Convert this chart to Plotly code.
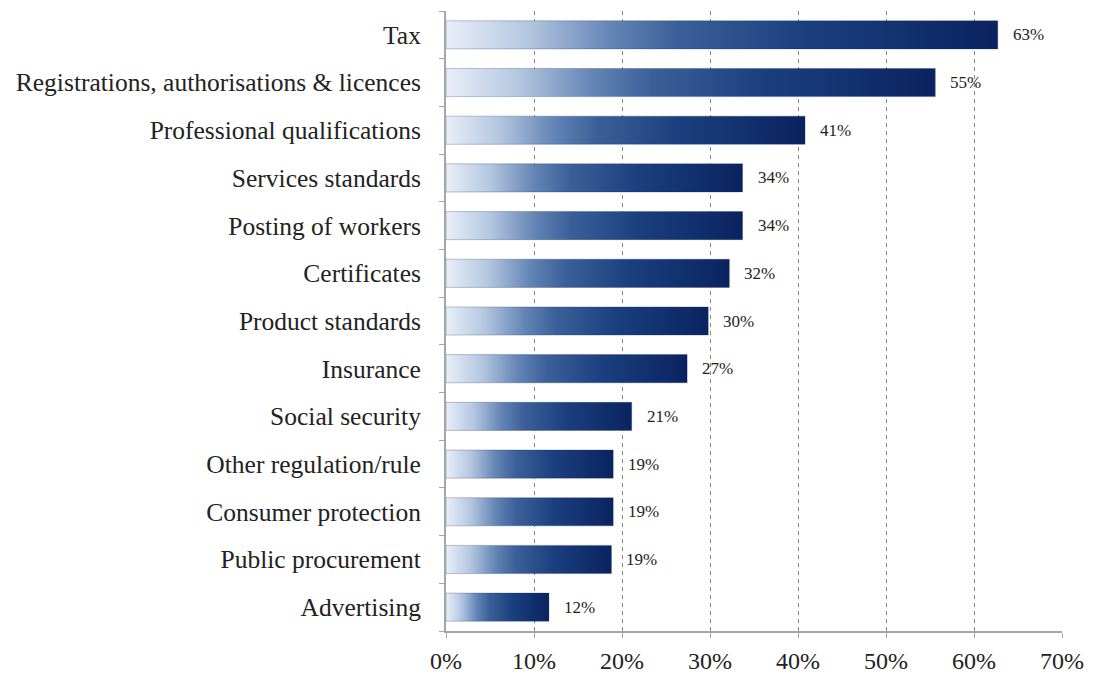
import plotly.graph_objects as go

# Share of respondents citing each area as an obstacle
categories = [
    "Tax",
    "Registrations, authorisations & licences",
    "Professional qualifications",
    "Services standards",
    "Posting of workers",
    "Certificates",
    "Product standards",
    "Insurance",
    "Social security",
    "Other regulation/rule",
    "Consumer protection",
    "Public procurement",
    "Advertising",
]
values = [0.627, 0.556, 0.408, 0.337, 0.337, 0.322, 0.298, 0.274, 0.211, 0.190, 0.190, 0.188, 0.117]
value_labels = ["63%", "55%", "41%", "34%", "34%", "32%", "30%", "27%", "21%", "19%", "19%", "19%", "12%"]
x_ticks = [0, 0.1, 0.2, 0.3, 0.4, 0.5, 0.6, 0.7]
x_tick_labels = ["0%", "10%", "20%", "30%", "40%", "50%", "60%", "70%"]

FONT = "Liberation Serif, Times New Roman, serif"
HALF = 0.295  # half bar thickness in category units

gradient = [
    [0.0, "#e9eff8"],
    [0.15, "#b3c6e0"],
    [0.3, "#6384b5"],
    [0.42, "#3b6099"],
    [0.65, "#1b3f7e"],
    [1.0, "#0a2360"],
]

fig = go.Figure()
for i, v in enumerate(values):
    fig.add_trace(go.Scatter(
        x=[0, v, v, 0, 0],
        y=[i - HALF, i - HALF, i + HALF, i + HALF, i - HALF],
        mode="lines",
        fill="toself",
        fillgradient=dict(type="horizontal", colorscale=gradient),
        line=dict(width=0.6, color="rgba(20,40,90,0.45)"),
        hoverinfo="skip",
        showlegend=False,
    ))
    fig.add_annotation(
        x=v, y=i, text=value_labels[i], showarrow=False,
        xanchor="left", xshift=13,
        font=dict(family=FONT, size=17, color="#222222"),
    )

fig.update_layout(
    width=1094, height=675,
    margin=dict(l=446, r=32, t=11, b=44),
    plot_bgcolor="white", paper_bgcolor="white",
    font=dict(family=FONT, color="#222222"),
)
fig.update_xaxes(
    range=[0, 0.7], automargin=False,
    tickvals=x_ticks, ticktext=x_tick_labels,
    tickfont=dict(size=24), ticklabelstandoff=2,
    showgrid=True, gridcolor="#8a8a8a", griddash="4px,4px", gridwidth=1,
    showline=True, linecolor="#a6a6a6", linewidth=2,
    ticks="outside", ticklen=5, tickcolor="#a6a6a6",
    zeroline=False,
)
fig.update_yaxes(
    range=[12.5, -0.5], automargin=False,
    tickvals=list(range(len(categories))), ticktext=categories,
    tickfont=dict(size=25.5),
    ticks="", ticklabelstandoff=18,
    minor=dict(tick0=0.5, dtick=1, ticks="outside", ticklen=5, tickcolor="#a6a6a6", showgrid=False),
    showgrid=False, zeroline=False,
    showline=True, linecolor="#a6a6a6", linewidth=2,
)

fig.write_html("out.html")
